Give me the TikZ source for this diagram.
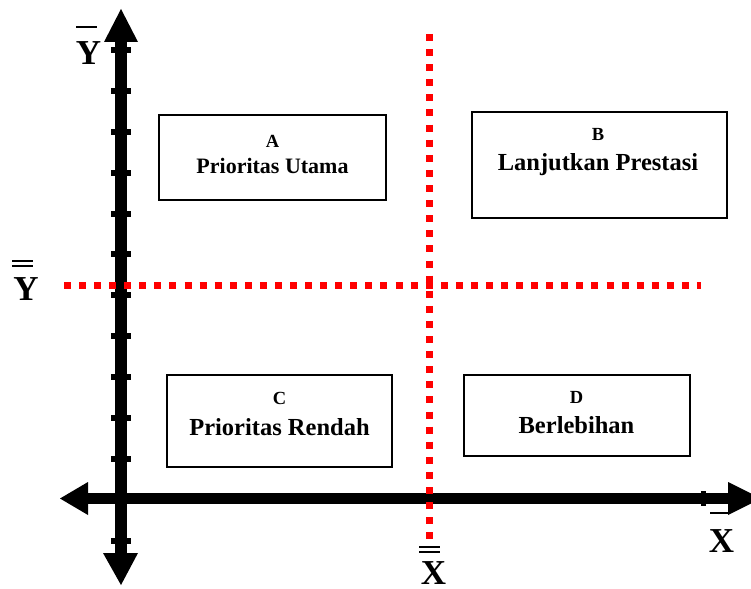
\documentclass[tikz,border=0pt]{standalone}
\usepackage{fontspec}
\setmainfont{Liberation Serif}
\begin{document}
\begin{tikzpicture}[x=1pt,y=-1pt,
  box/.style={draw=black,line width=1.5pt,fill=none,inner sep=0pt},
  reddot/.style={draw=red,line width=7pt,line cap=butt,dash pattern=on 7pt off 8.07pt},
  axis/.style={draw=black,line width=11.5pt,line cap=butt},
  tip/.style={fill=black},
  bigl/.style={inner sep=0pt,anchor=base,font=\bfseries\fontsize{35}{40}\selectfont},
  letl/.style={inner sep=0pt,anchor=base,font=\bfseries\fontsize{18.5}{20}\selectfont},
  maina/.style={inner sep=0pt,anchor=base,font=\bfseries\fontsize{22}{24}\selectfont},
  mainl/.style={inner sep=0pt,anchor=base,font=\bfseries\fontsize{24.5}{26}\selectfont},
  bar/.style={draw=black,line width=1.5pt}]
\useasboundingbox (0,0) rectangle (751,588);
% boxes
\node[box,minimum width=227pt,minimum height=85pt] (A) at (272.5,157.5) {};
\node[box,minimum width=255pt,minimum height=106pt] (B) at (599.5,165) {};
\node[box,minimum width=225pt,minimum height=92pt] (C) at (279.5,421) {};
\node[box,minimum width=226pt,minimum height=81pt] (D) at (577,415.5) {};
\node[letl] (At) at (272.5,147) {A};
\node[maina] (Am) at (272.5,173) {Prioritas Utama};
\node[letl] (Bt) at (598,141) {B};
\node[mainl] (Bm) at (598,171) {Lanjutkan Prestasi};
\node[letl] (Ct) at (279.5,404) {C};
\node[mainl] (Cm) at (279.5,435) {Prioritas Rendah};
\node[letl] (Dt) at (576.5,403) {D};
\node[mainl] (Dm) at (576.5,433) {Berlebihan};
% axes
\coordinate (ytop) at (121,42);
\coordinate (ybot) at (121,553);
\coordinate (xleft) at (88,498.5);
\coordinate (xright) at (728,498.5);
\draw[axis,line width=12pt] (ytop) -- (ybot);
\draw[axis] (xleft) -- (xright);
\fill[tip] (121,9) -- (104,42) -- (138,42) -- cycle;
\fill[tip] (121,585) -- (103,553) -- (138,553) -- cycle;
\fill[tip] (60,498.5) -- (88,482) -- (88,515) -- cycle;
\fill[tip] (761,498.5) -- (728,482) -- (728,515) -- cycle;
\foreach \k in {0,...,12}{
  \fill[black] (111,{50+40.875*\k-3}) rectangle (131,{50+40.875*\k+3});
}
\fill[black] (701,491) rectangle (706,506);
% red dotted lines
\coordinate (vtop) at (429.5,34);
\coordinate (vbot) at (429.5,540);
\coordinate (hl) at (64,285.5);
\coordinate (hr) at (701,285.5);
\draw[reddot,dash pattern=on 7pt off 8.1pt] (vtop) -- (vbot);
\draw[reddot] (hl) -- (hr);
% labels
\node[bigl] (Ybar) at (88.5,65) {Y};
\draw[bar] (76,27) -- (97,27);
\node[bigl] (Ydbar) at (26,300) {Y};
\draw[bar] (12,261) -- (33,261);
\draw[bar] (12,266) -- (33,266);
\node[bigl] (Xbar) at (721.5,552) {X};
\draw[bar] (710,513) -- (730,513);
\node[bigl] (Xdbar) at (433.5,584) {X};
\draw[bar] (419,547) -- (440,547);
\draw[bar] (419,552) -- (440,552);
\end{tikzpicture}
\end{document}
